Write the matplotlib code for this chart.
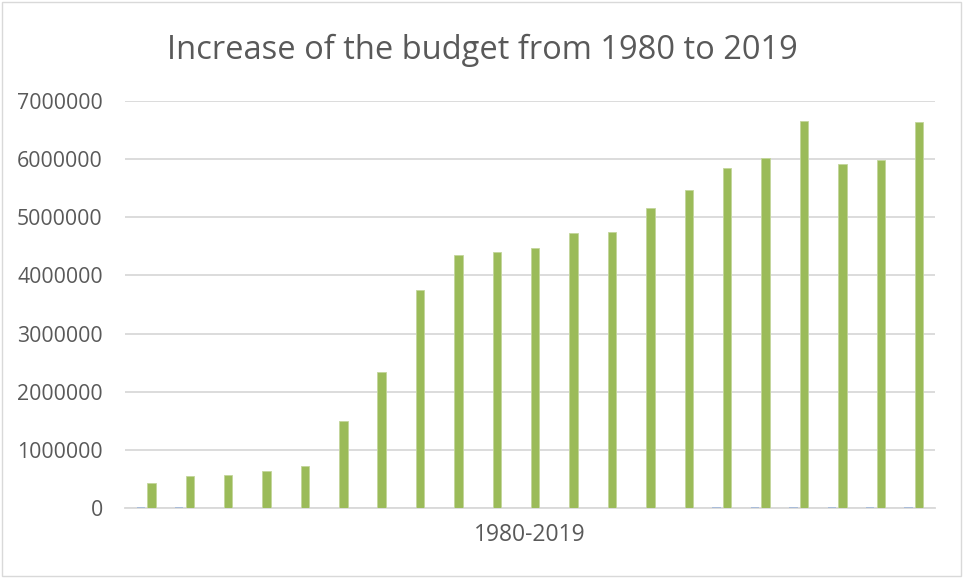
import matplotlib
matplotlib.use("Agg")
from matplotlib import pyplot as plt
from matplotlib.patches import Rectangle
import numpy as np

# budget per period (green) and the near-zero companion series (blue)
budget = [426000, 547000, 565000, 638000, 730000, 1500000, 2340000, 3750000,
          4355000, 4410000, 4470000, 4730000, 4750000, 5160000, 5470000,
          5840000, 6020000, 6655000, 5910000, 5990000, 6645000]
companion = [20000, 20000, 0, 0, 0, 0, 0, 0, 0, 0, 0, 0, 0, 0, 0,
             20000, 20000, 20000, 20000, 20000, 20000]
category_label = "1980-2019"
title = "Increase of the budget from 1980 to 2019"
y_ticks = [0, 1000000, 2000000, 3000000, 4000000, 5000000, 6000000, 7000000]

text_color = "#595959"
grid_color = "#d9d9d9"

plt.rcParams["font.family"] = ["Open Sans", "DejaVu Sans"]

fig = plt.figure(figsize=(9.63, 5.78), dpi=100)
ax = fig.add_axes([0.1298, 0.1211, 0.8411, 0.7042])

x = np.arange(len(budget))
ax.bar(x - 0.137, companion, width=0.22, color="#a9bcd9", zorder=3)
ax.bar(x + 0.137, budget, width=0.22, color="#9bbb59",
       edgecolor="#c3d69b", linewidth=0.6, zorder=3)

ax.set_xlim(-0.55, len(budget) - 0.45)
ax.set_ylim(0, 7000000)
ax.set_yticks(y_ticks)
ax.set_yticklabels([str(v) for v in y_ticks])
ax.set_xticks([(len(budget) - 1) / 2])
ax.set_xticklabels([category_label])
ax.tick_params(axis="both", length=0, colors=text_color)
ax.tick_params(axis="y", pad=16, labelsize=15.3)
ax.tick_params(axis="x", pad=11, labelsize=16.5)
ax.grid(axis="y", color=grid_color, linewidth=1.3, zorder=0)
for side in ["top", "right", "left"]:
    ax.spines[side].set_visible(False)
ax.spines["bottom"].set_color(grid_color)
ax.spines["bottom"].set_linewidth(1.3)

fig.text(0.501, 0.912, title, ha="center", va="center",
         fontsize=23.5, color=text_color)

# chart border
fig.patches.append(Rectangle((0.002, 0.003), 0.996, 0.994, transform=fig.transFigure,
                             fill=False, edgecolor=grid_color, linewidth=1))

fig.savefig("out.png", dpi=100)
